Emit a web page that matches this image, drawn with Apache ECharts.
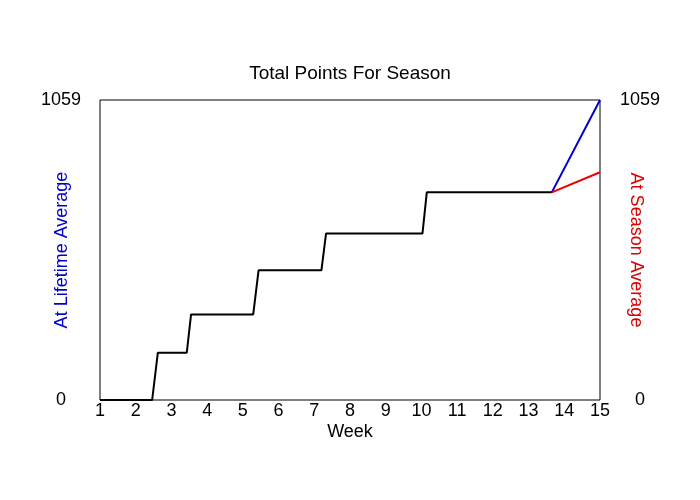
<!DOCTYPE html>
<html>
<head>
<meta charset="utf-8">
<script src="https://cdn.jsdelivr.net/npm/echarts@6/dist/echarts.min.js"></script>
<style>html,body{margin:0;padding:0;background:#fff}#c{width:700px;height:500px}</style>
</head>
<body>
<div id="c"></div>
<script>
var actualWeeks = [1, 2.46, 2.62, 3.43, 3.55, 5.29, 5.44, 7.20, 7.33, 10.03, 10.15, 13.65];
var actualPoints = [0, 0, 167, 167, 302, 302, 458, 458, 588, 588, 733, 733];
var projWeeks = [13.65, 15];
var lifetimePoints = [733, 1059];
var seasonPoints = [733, 804];
var yMax = 1059;

function pairs(xs, ys) { return xs.map(function (x, i) { return [x, ys[i]]; }); }
function plain(v) { return String(v); }

var font = 'Liberation Sans, Arial, sans-serif';
var chart = echarts.init(document.getElementById('c'));
chart.setOption({
  animation: false,
  backgroundColor: '#fff',
  title: {
    text: 'Total Points For Season', left: 'center', top: 59,
    textStyle: { fontFamily: font, fontSize: 19, fontWeight: 'normal', color: '#000' }
  },
  grid: { left: 100, right: 100, top: 100, bottom: 100, show: true, borderColor: '#000', borderWidth: 1, backgroundColor: '#fff' },
  xAxis: {
    type: 'value', min: 1, max: 15, interval: 1,
    name: 'Week', nameLocation: 'middle', nameGap: 23, nameMoveOverlap: false,
    nameTextStyle: { fontFamily: font, fontSize: 18, color: '#000' },
    axisLine: { show: false }, axisTick: { show: false }, splitLine: { show: false },
    axisLabel: { fontFamily: font, fontSize: 18, color: '#000', margin: 2, showMinLabel: true, showMaxLabel: true, formatter: plain }
  },
  yAxis: [{
    type: 'value', min: 0, max: yMax, interval: yMax, position: 'left',
    name: 'At Lifetime Average', nameLocation: 'middle', nameGap: 29, nameMoveOverlap: false,
    nameTextStyle: { fontFamily: font, fontSize: 18, color: '#0000cc' },
    axisLine: { show: false }, axisTick: { show: false }, splitLine: { show: false },
    axisLabel: { fontFamily: font, fontSize: 18, color: '#000', margin: 39, align: 'center', formatter: plain }
  }, {
    type: 'value', min: 0, max: yMax, interval: yMax, position: 'right',
    name: 'At Season Average', nameLocation: 'middle', nameGap: 27, nameRotate: -90, nameMoveOverlap: false,
    nameTextStyle: { fontFamily: font, fontSize: 18, color: '#dd0000' },
    axisLine: { show: false }, axisTick: { show: false }, splitLine: { show: false },
    axisLabel: { fontFamily: font, fontSize: 18, color: '#000', margin: 40, align: 'center', formatter: plain }
  }],
  series: [{
    type: 'line', data: pairs(projWeeks, lifetimePoints), symbol: 'none',
    lineStyle: { color: '#0000cc', width: 2 }
  }, {
    type: 'line', data: pairs(projWeeks, seasonPoints), symbol: 'none',
    lineStyle: { color: '#ee0000', width: 2 }
  }, {
    type: 'line', data: pairs(actualWeeks, actualPoints), symbol: 'none',
    lineStyle: { color: '#000', width: 2 }
  }]
});
</script>
</body>
</html>
